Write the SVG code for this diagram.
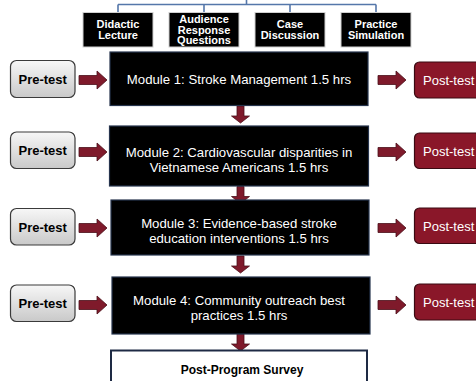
<svg xmlns="http://www.w3.org/2000/svg" width="476" height="381" viewBox="0 0 476 381">
<defs>
<linearGradient id="pg" x1="0" y1="0" x2="0" y2="1">
<stop offset="0" stop-color="#f7f7f7"/>
<stop offset="1" stop-color="#c9c9c9"/>
</linearGradient>
<polygon id="ra" points="0,-4.5 18,-4.5 18,-9 28,0 18,9 18,4.5 0,4.5"/>
<polygon id="da" points="-3.5,0 3.5,0 3.5,10 9,10 0,17 -9,10 -3.5,10"/>
</defs>
<style>
.top{fill:#000;stroke:#d0d0d0;stroke-width:1}
.tt{fill:#fff;font-family:"Liberation Sans",Arial,sans-serif;font-weight:bold;font-size:11px;text-anchor:middle}
.mod{fill:#000;stroke:#26344d;stroke-width:1.2}
.mt{fill:#fff;font-family:"Liberation Sans",Arial,sans-serif;font-size:13.2px;text-anchor:middle}
.pre{fill:url(#pg);stroke:#3a3a3a;stroke-width:1.2}
.prt{fill:#000;font-family:"Liberation Sans",Arial,sans-serif;font-weight:bold;font-size:13px;text-anchor:middle}
.post{fill:#8a1729;stroke:#3a0a12;stroke-width:1.2}
.pot{fill:#fff;font-family:"Liberation Sans",Arial,sans-serif;font-size:13px}
.arr{fill:#7f1a2b;stroke:#4a0f19;stroke-width:0.8}
.ln{fill:none;stroke:#5577aa;stroke-width:1.6}
</style>
<g id="connectors">
<path class="ln" d="M246.5,0 V4.5 M118,4.5 H376 M118,4.5 V12 M204,4.5 V12 M290,4.5 V12 M376,4.5 V12"/>
<use href="#ra" class="arr" x="79" y="80"/>
<use href="#ra" class="arr" x="79" y="152"/>
<use href="#ra" class="arr" x="79" y="228"/>
<use href="#ra" class="arr" x="79" y="305"/>
<use href="#ra" class="arr" x="378" y="80"/>
<use href="#ra" class="arr" x="378" y="152"/>
<use href="#ra" class="arr" x="378" y="228"/>
<use href="#ra" class="arr" x="378" y="305"/>
<use href="#da" class="arr" x="240.5" y="106"/>
<use href="#da" class="arr" x="240.5" y="186.5"/>
<use href="#da" class="arr" x="240.5" y="256"/>
<use href="#da" class="arr" x="240.5" y="334"/>
</g>
<g id="didactic"><rect class="top" x="83" y="12.5" width="70" height="34.5"/><text class="tt" x="118" y="28">Didactic</text><text class="tt" x="118" y="39">Lecture</text></g>
<g id="audience"><rect class="top" x="169" y="12.5" width="70" height="34.5"/><text class="tt" x="204" y="23">Audience</text><text class="tt" x="204" y="33.5">Response</text><text class="tt" x="204" y="44">Questions</text></g>
<g id="case"><rect class="top" x="255" y="12.5" width="70" height="34.5"/><text class="tt" x="290" y="28">Case</text><text class="tt" x="290" y="39">Discussion</text></g>
<g id="practice"><rect class="top" x="341" y="12.5" width="70" height="34.5"/><text class="tt" x="376" y="28">Practice</text><text class="tt" x="376" y="39">Simulation</text></g>
<g id="module1"><rect class="mod" x="110" y="52" width="258" height="53.5"/><text class="mt" x="239" y="84">Module 1: Stroke Management 1.5 hrs</text></g>
<g id="module2"><rect class="mod" x="109.5" y="126" width="259" height="60"/><text class="mt" x="239" y="156.5">Module 2: Cardiovascular disparities in</text><text class="mt" x="239" y="171.5">Vietnamese Americans 1.5 hrs</text></g>
<g id="module3"><rect class="mod" x="111" y="200" width="258" height="55"/><text class="mt" x="239" y="227.5">Module 3: Evidence-based stroke</text><text class="mt" x="239" y="242.5">education interventions 1.5 hrs</text></g>
<g id="module4"><rect class="mod" x="112" y="277" width="258" height="57"/><text class="mt" x="239" y="304.5">Module 4: Community outreach best</text><text class="mt" x="239" y="319.5">practices 1.5 hrs</text></g>
<g id="survey"><rect x="111" y="350.5" width="256" height="40" fill="#fff" stroke="#1e2a44" stroke-width="2"/><text class="prt" x="242" y="373.5" style="font-size:12px">Post-Program Survey</text></g>
<g id="pre1"><rect class="pre" x="10.5" y="60.5" width="64.5" height="37" rx="6"/><text class="prt" x="42.7" y="83.5">Pre-test</text></g>
<g id="pre2"><rect class="pre" x="10.5" y="132" width="64.5" height="36.5" rx="6"/><text class="prt" x="42.7" y="155">Pre-test</text></g>
<g id="pre3"><rect class="pre" x="10.5" y="208.5" width="64.5" height="36.5" rx="6"/><text class="prt" x="42.7" y="231.5">Pre-test</text></g>
<g id="pre4"><rect class="pre" x="10.5" y="285" width="64.5" height="36.5" rx="6"/><text class="prt" x="42.7" y="308">Pre-test</text></g>
<g id="post1"><rect class="post" x="414.5" y="62" width="70" height="36" rx="5"/><text class="pot" x="423" y="84.5">Post-test</text></g>
<g id="post2"><rect class="post" x="414.5" y="133" width="70" height="35.5" rx="5"/><text class="pot" x="423" y="155.5">Post-test</text></g>
<g id="post3"><rect class="post" x="414.5" y="208" width="70" height="35.5" rx="5"/><text class="pot" x="423" y="230.5">Post-test</text></g>
<g id="post4"><rect class="post" x="414.5" y="284" width="70" height="36" rx="5"/><text class="pot" x="423" y="306.5">Post-test</text></g>
</svg>
